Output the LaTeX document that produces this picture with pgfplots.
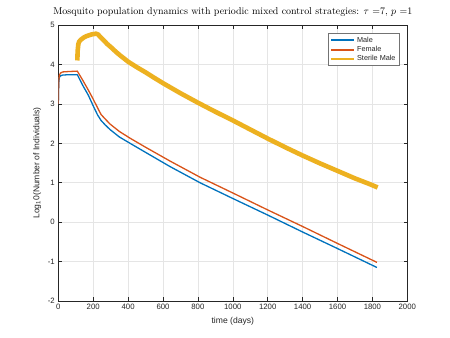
\documentclass[border=0pt]{standalone}
\usepackage{pgfplots}
\pgfplotsset{compat=1.18}
\usepackage{fontspec}
\newfontfamily\arial{Liberation Sans}
\definecolor{mblue}{rgb}{0,0.447,0.741}
\definecolor{mred}{rgb}{0.85,0.325,0.098}
\definecolor{myellow}{rgb}{0.929,0.694,0.125}
\definecolor{axgray}{rgb}{0.15,0.15,0.15}
\begin{document}
\begin{tikzpicture}
\path[use as bounding box, fill=white] (0,0) rectangle (450bp,338bp);
\begin{axis}[
  at={(58.3bp,37bp)}, anchor=south west,
  scale only axis, width=349bp, height=276bp,
  xmin=0, xmax=2000, ymin=-2, ymax=5,
  xtick={0,200,...,2000}, ytick={-2,-1,...,5},
  grid=major,
  major grid style={line width=0.5bp, draw=black!10},
  tick align=inside,
  major tick length=3.5bp,
  axis line style={draw=axgray, line width=0.5bp},
  tick style={draw=axgray, line width=0.5bp},
  /pgf/number format/assume math mode=true,
  scaled x ticks=false,
  xticklabel style={/pgf/number format/1000 sep={}},
  every tick label/.append style={font=\arial\fontsize{7.8}{9}\selectfont, text=axgray},
  title={Mosquito population dynamics with periodic mixed control strategies: $\tau$ =7, $p$ =1},
  title style={font=\fontsize{10}{12}\selectfont, yshift=-1.5bp},
  xlabel={time (days)},
  ylabel={Log\textsubscript{1}0(Number of Individuals)},
  label style={font=\arial\fontsize{8.6}{10}\selectfont, text=axgray},
  legend style={at={(0.977,0.97)}, anchor=north east, draw=black!55, line width=0.5bp,
    font=\arial\fontsize{7.3}{8.5}\selectfont, text=axgray, inner sep=1.5bp, row sep=-1.6bp},
  legend cell align=left,
  legend image code/.code={\draw[#1] (0bp,0bp) -- (23bp,0bp);},
]
\addplot[mblue, line width=1.3bp, line join=round, forget plot] coordinates {
(0,3.0) (1,3.3) (3,3.55) (6,3.67) (12,3.71) (25,3.73) (60,3.74) (109,3.74)
(140,3.47) (172,3.22) (200,2.95) (225,2.72) (245,2.58) (268,2.47) (296,2.35)
(350,2.16) (411,2.0) (500,1.77) (640,1.41) (812,1.0) (1000,0.6) (1200,0.18)
(1400,-0.25) (1600,-0.67) (1826,-1.15)
};
\addplot[mred, line width=1.3bp, line join=round, forget plot] coordinates {
(0,3.0) (1,3.3) (3,3.6) (6,3.72) (12,3.78) (25,3.81) (60,3.82) (109,3.83)
(140,3.60) (172,3.35) (200,3.12) (225,2.90) (245,2.73) (268,2.62) (296,2.49)
(350,2.30) (411,2.13) (500,1.90) (640,1.55) (812,1.14) (1000,0.74) (1200,0.31)
(1400,-0.11) (1600,-0.54) (1826,-1.02)
};
\addplot[myellow, line width=4.6bp, line join=round, forget plot] coordinates {
(109,4.10) (111,4.35) (115,4.52) (120,4.58) (130,4.63) (145,4.68) (163,4.72) (190,4.76)
(216,4.78) (228,4.76) (240,4.70) (258,4.62) (280,4.52) (306,4.42) (330,4.32)
(354,4.23) (380,4.14) (400,4.07) (450,3.93) (500,3.80) (550,3.66) (602,3.52)
(700,3.27) (800,3.03) (900,2.80) (1000,2.58) (1100,2.35) (1200,2.12) (1300,1.90)
(1400,1.69) (1500,1.49) (1600,1.30) (1700,1.11) (1787,0.96) (1830,0.88)
};
\addlegendimage{mblue, line width=2bp}
\addlegendentry{Male}
\addlegendimage{mred, line width=2bp}
\addlegendentry{Female}
\addlegendimage{myellow, line width=2bp}
\addlegendentry{Sterile Male}
\end{axis}
\end{tikzpicture}
\end{document}
